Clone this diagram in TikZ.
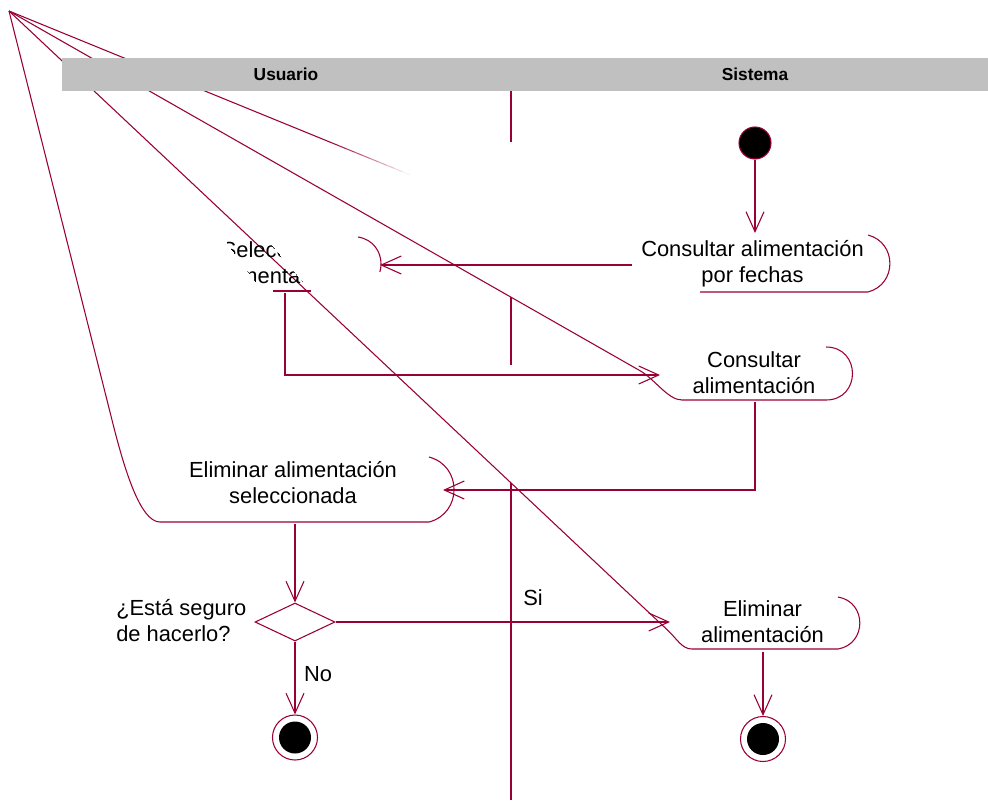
\documentclass[tikz,border=0pt]{standalone}
\usepackage{fontspec}
\setmainfont{Liberation Sans}
\usetikzlibrary{arrows.meta,shapes.geometric}
\definecolor{umlred}{RGB}{153,0,51}
\definecolor{lanegray}{RGB}{192,192,192}
\begin{document}
\begin{tikzpicture}[x=0.75pt,y=-0.75pt,
  ln/.style={draw=umlred,line width=0.8pt},
  flow/.style={ln,-{Straight Barb[length=15pt,width=13.5pt]}},
  lbl/.style={font=\fontsize{16.4}{19.5}\selectfont,inner sep=0pt,align=center,text=black},
  hdr/.style={font=\fontsize{13}{15.6}\selectfont\bfseries,inner sep=0pt,text=black},
  startst/.style={circle,fill=black,draw=umlred,line width=0.8pt,minimum size=24pt,inner sep=0pt},
  endring/.style={circle,draw=umlred,line width=0.8pt,fill=white,minimum size=33.75pt,inner sep=0pt},
  enddot/.style={circle,fill=black,minimum size=24pt,inner sep=0pt},
  decision/.style={diamond,draw=umlred,line width=0.8pt,minimum width=60pt,minimum height=28.5pt,inner sep=0pt}
]
\useasboundingbox (0,0) rectangle (988,800);
\coordinate (corner) at (9,11);

% activity outlines whose top-left corner collapsed to the picture corner
\draw[ln] (corner) -- (112,420) .. controls (124,468) and (140,522) .. (160,522)
  -- (429,522) .. controls (462.4,513.2) and (462.4,465.8) .. (429,457);
\draw[ln] (corner) -- (640,370.7) .. controls (655,379.3) and (668,400) .. (682,400)
  -- (826,400) .. controls (861.3,400) and (861.3,347) .. (826,347);
\draw[ln] (corner) -- (668,630.5) .. controls (677,639) and (682,649) .. (692,649)
  -- (838,649) .. controls (867.1,644.1) and (867.1,601.9) .. (838,597);
\draw[ln] (corner) -- (330,142.1);
\foreach \i in {0,...,9} {
  \pgfmathsetmacro\op{1-(\i+0.5)/10}
  \draw[ln,draw opacity=\op] ({330+8*\i},{142.1+3.268*\i}) -- ({338+8*\i},{145.37+3.268*\i});
}
\draw[ln] (700,292) -- (868,292) .. controls (897.2,284.3) and (897.2,242.7) .. (868,235);

% Seleccionar alimentacion (mostly hidden)
\draw[ln] (273,291) -- (311,291);
\begin{scope}
  \clip (340,230) rectangle (400,271);
  \draw[ln] (358,237) .. controls (388.7,241.9) and (388.7,286.1) .. (358,291);
\end{scope}
\begin{scope}
  \clip (212,220) -- (229,246) -- (256,283) -- (268,300) -- (318,300) -- (250,220) -- cycle;
  \node[lbl] (selec) at (279,265.5) {\strut Seleccionar\\\strut alimentación};
\end{scope}

% swimlane header
\fill[lanegray] (62,58) rectangle (988,91);
\node[hdr] (usr) at (286,76) {\strut Usuario};
\node[hdr] (sys) at (755,76) {\strut Sistema};

% lane divider (visible pieces)
\coordinate (d0) at (511,91);
\coordinate (d1) at (511,142);
\coordinate (d2) at (511,297);
\coordinate (d3) at (511,365);
\coordinate (d4) at (511,483);
\coordinate (d5) at (511,800);
\draw[ln] (d0) -- (d1) (d2) -- (d3) (d4) -- (d5);

% texts
\node[lbl] (fechas) at (752.5,264) {\strut Consultar alimentación\\\strut por fechas};
\node[lbl] (consultar) at (754,375) {\strut Consultar\\\strut alimentación};
\node[lbl] (elimsel) at (293,485.5) {\strut Eliminar alimentación\\\strut seleccionada};
\node[lbl] (elim) at (762.5,624) {\strut Eliminar\\\strut alimentación};
\node[lbl,anchor=west,align=left] (pregunta) at (116,623) {\strut ¿Está seguro\\\strut de hacerlo?};
\node[lbl] (si) at (533,600.5) {\strut Si};
\node[lbl] (no) at (318,676.5) {\strut No};

% states
\node[startst] (start) at (755,143) {};
\node[decision] (dec) at (295,622) {};
\node[endring] (endNo) at (295,737.5) {};
\node[enddot] (endNoIn) at (endNo) {};
\node[endring] (endE) at (763,739) {};
\node[enddot] (endEIn) at (endE) {};

% connector anchors on the activity outlines
\coordinate (fechasTop) at (755,233);
\coordinate (fechasL) at (632,265);
\coordinate (selR) at (380,265);
\coordinate (selB) at (285,293);
\coordinate (consL) at (660,375);
\coordinate (consB) at (755,402);
\coordinate (elsR) at (443,490);
\coordinate (elsB) at (295,524);
\coordinate (elimL) at (670,622);
\coordinate (elimB) at (763,652);

\draw[flow] (start.south) -- (fechasTop);
\draw[flow] (fechasL) -- (selR);
\draw[flow] (selB) |- (consL);
\draw[flow] (consB) |- (elsR);
\draw[flow] (elsB) -- (dec.north);
\draw[flow] (dec.east) -- (elimL);
\draw[flow] (dec.south) -- (endNo.north);
\draw[flow] (elimB) -- (endE.north);
\end{tikzpicture}
\end{document}
